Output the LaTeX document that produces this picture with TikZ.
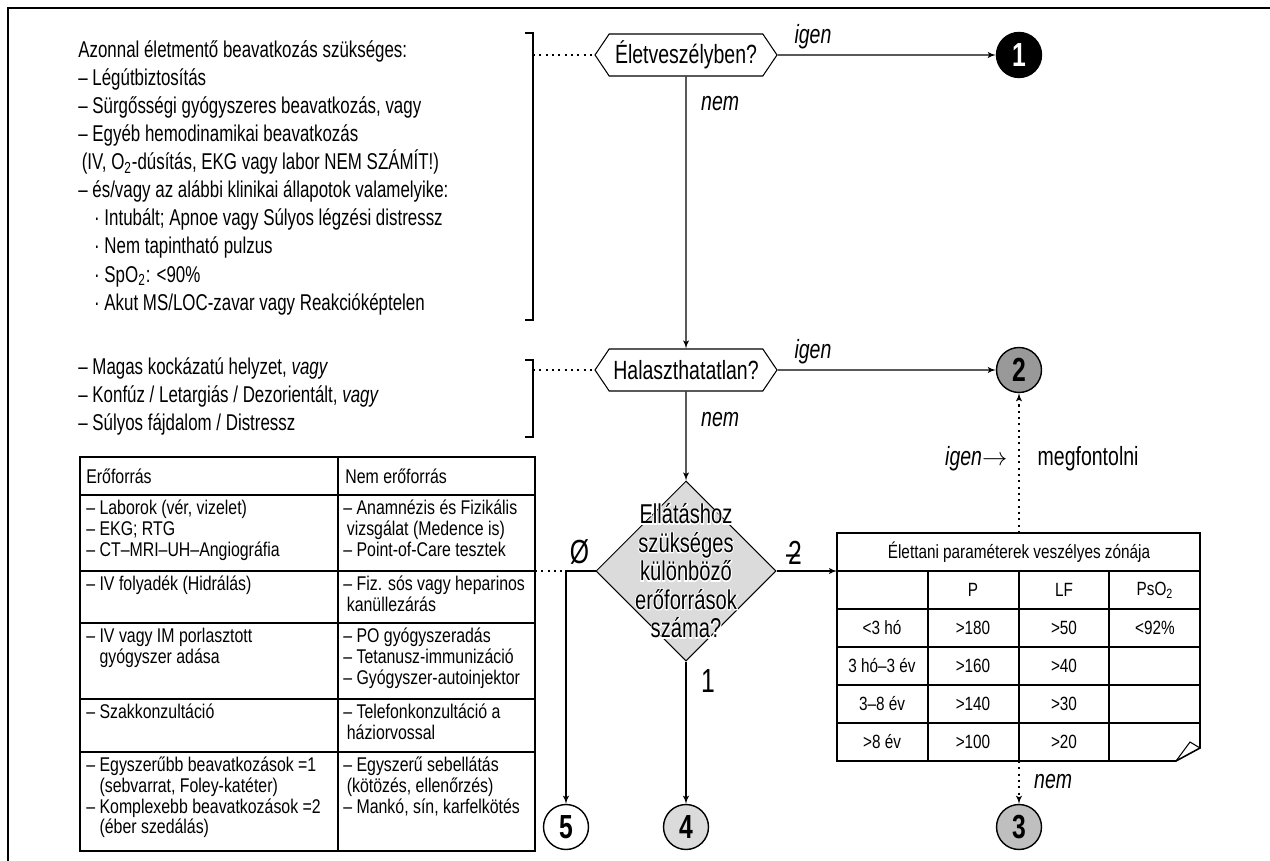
\documentclass[tikz,border=0pt]{standalone}
\usepackage{fontspec}
\setmainfont{Liberation Sans}[FakeStretch=0.74]
\newfontfamily\tabfamily{Liberation Sans}[FakeStretch=0.8]
\newfontfamily\halofamily{Liberation Sans}[FakeStretch=0.74, FakeBold=7]
\usetikzlibrary{arrows}
\usetikzlibrary{positioning}
\usetikzlibrary{shapes.geometric}
\usetikzlibrary{shapes.symbols}
\newcommand{\sidefont}{\fontsize{13}{16}\selectfont}
\newcommand{\flowfont}{\fontsize{15}{17}\selectfont}
\newcommand{\resfont}{\fontsize{15.5}{16.2}\selectfont}
\newcommand{\cellfont}{\tabfamily\fontsize{11.3}{11.7}\selectfont}
\newcommand{\parfont}{\tabfamily\fontsize{10.9}{11.7}\selectfont}
\newcommand{\numfont}{\fontsize{19}{19}\selectfont\bfseries}
\newcommand{\markfont}{\fontsize{19}{19}\selectfont}
\newcommand{\restext}{Ellátáshoz\\szükséges\\különböző\\erőforrások\\száma?}
\tikzset{flow/.style = {-latex', line width=0.6pt},
         hint/.style = {line width=0.6pt, dash pattern=on 1.2pt off 2.4pt},
         rule/.style = {line width=0.9pt},
         question/.style = {signal, signal to=west and east, signal pointer angle=112,
                            draw, line width=0.6pt, minimum width=3.64cm,
                            minimum height=0.84cm, inner sep=0pt, font=\flowfont},
         exit/.style = {circle, draw, line width=0.8pt, minimum size=0.9cm,
                        inner sep=0pt, font=\numfont},
         side/.style = {anchor=north west, align=left, inner sep=0pt, font=\sidefont},
         cell/.style = {anchor=north west, align=left, inner sep=0pt, font=\cellfont},
         val/.style = {inner sep=0pt, font=\parfont}}

\begin{document}
\begin{tikzpicture}[x=0.02cm, y=-0.02cm]
    \useasboundingbox (0, 0) rectangle (1270, 861);
    \draw [line width=0.7pt] (8, 861) -- (8, 8) -- (1270, 8);

    % kriteriumok
    \node (crit) [side] at (78, 40) {Azonnal életmentő beavatkozás szükséges:\\
        – Légútbiztosítás\\
        – Sürgősségi gyógyszeres beavatkozás, vagy\\
        – Egyéb hemodinamikai beavatkozás\\
        \hspace*{2pt}(IV, O\textsubscript{2}-dúsítás, EKG vagy labor NEM SZÁMÍT!)\\
        – és/vagy az alábbi klinikai állapotok valamelyike:\\
        \hspace*{9pt}· Intubált; Apnoe vagy Súlyos légzési distressz\\
        \hspace*{9pt}· Nem tapintható pulzus\\
        \hspace*{9pt}· SpO\textsubscript{2}: <90\%\\
        \hspace*{9pt}· Akut MS/LOC-zavar vagy Reakcióképtelen};
    \node (risk) [side] at (78, 357) {– Magas kockázatú helyzet, \emph{vagy}\\
        – Konfúz / Letargiás / Dezorientált, \emph{vagy}\\
        – Súlyos fájdalom / Distressz};
    \draw [line width=0.6pt] (525, 33) -- (533, 33) -- (533, 320) -- (525, 320);
    \draw [line width=0.6pt] (525, 360) -- (533, 360) -- (533, 437) -- (525, 437);
    \coordinate (brace1) at (533, 55);
    \coordinate (brace2) at (533, 370);

    \node (elet) [question] at (686, 55) {Életveszélyben?};
    \node (halaszt) [question] at (686, 370) {Halaszthatatlan?};
    \node (res) [diamond, draw, line width=0.6pt, fill=black!14, minimum width=3.6cm,
                 minimum height=3.6cm, inner sep=0pt] at (686, 571) {};
    \node (reshalo) [align=center, inner sep=0pt, text=white, font=\resfont\halofamily] at (res) {\restext};
    \node (restxt) [align=center, inner sep=0pt, font=\resfont] at (res) {\restext};

    \node (c1) [exit, fill=black, text=white] at (1019, 55) {1};
    \node (c2) [exit, fill=black!40] at (1019, 370) {2};
    \node (c3) [exit, fill=black!25] at (1019, 827) {3};
    \node (c4) [exit, fill=black!14] at (686, 827) {4};
    \node (c5) [exit, fill=white] at (566, 827) {5};

    \draw [hint] (brace1) -- (elet.west);
    \draw [hint] (brace2) -- (halaszt.west);
    \draw [flow] (elet) -- (c1) node [pos=0, anchor=south west, xshift=6pt, font=\flowfont\itshape] {igen};
    \draw [flow] (elet) -- (halaszt) node [pos=0.1, right=5pt, font=\flowfont\itshape] {nem};
    \draw [flow] (halaszt) -- (c2) node [pos=0, anchor=south west, xshift=6pt, font=\flowfont\itshape] {igen};
    \draw [flow] (halaszt) -- (res) node [pos=0.31, right=5pt, font=\flowfont\itshape] {nem};

    % eroforras tabla
    \draw [rule] (80, 457) rectangle (535, 851);
    \foreach \y in {495, 571, 623, 699, 752}
        \draw [rule] (80, \y) -- (535, \y);
    \draw [rule] (338, 457) -- (338, 851);
    \coordinate (restab) at (535, 571);

    \node (hdA) [cell, anchor=west] at (86, 476) {Erőforrás};
    \node (hdB) [cell, anchor=west] at (345, 476) {Nem erőforrás};
    \node (rowA1) [cell] at (86, 500) {– Laborok (vér, vizelet)\\– EKG; RTG\\– CT–MRI–UH–Angiográfia};
    \node (rowB1) [cell] at (343, 500) {– Anamnézis és Fizikális\\\hspace*{2pt}vizsgálat (Medence is)\\– Point-of-Care tesztek};
    \node (rowA2) [cell] at (86, 576) {– IV folyadék (Hidrálás)};
    \node (rowB2) [cell] at (343, 576) {– Fiz. sós vagy heparinos\\\hspace*{2pt}kanüllezárás};
    \node (rowA3) [cell] at (86, 628) {– IV vagy IM porlasztott\\\phantom{– }gyógyszer adása};
    \node (rowB3) [cell] at (343, 628) {– PO gyógyszeradás\\– Tetanusz-immunizáció\\– Gyógyszer-autoinjektor};
    \node (rowA4) [cell] at (86, 704) {– Szakkonzultáció};
    \node (rowB4) [cell] at (343, 704) {– Telefonkonzultáció a\\\hspace*{2pt}háziorvossal};
    \node (rowA5) [cell] at (86, 757) {– Egyszerűbb beavatkozások =1\\\phantom{– }(sebvarrat, Foley-katéter)\\– Komplexebb beavatkozások =2\\\phantom{– }(éber szedálás)};
    \node (rowB5) [cell] at (343, 757) {– Egyszerű sebellátás\\\hspace*{2pt}(kötözés, ellenőrzés)\\– Mankó, sín, karfelkötés};

    % parameter tabla
    \draw [rule] (837, 533) -- (1200, 533) -- (1200, 748) -- (1176, 761) -- (837, 761) -- cycle;
    \draw [line width=0.6pt] (1176, 761) -- (1190, 742) -- (1200, 748);
    \foreach \y in {571, 609, 647, 685, 723}
        \draw [rule] (837, \y) -- (1200, \y);
    \foreach \x in {928, 1019, 1109}
        \draw [rule] (\x, 571) -- (\x, 761);
    \coordinate (ptabin) at (837, 571);
    \coordinate (ptop) at (1019, 533);
    \coordinate (pbot) at (1019, 761);

    \node (ptitle) [val] at (1019, 552) {Élettani paraméterek veszélyes zónája};
    \node (hP) [val] at (973, 590) {P};
    \node (hLF) [val] at (1064, 590) {LF};
    \node (hSp) [val] at (1155, 590) {PsO\textsubscript{2}};
    \foreach \y/\age/\pul/\lf [count=\i] in {628/{<3 hó}/{>180}/{>50}, 666/{3 hó–3 év}/{>160}/{>40},
                                             704/{3–8 év}/{>140}/{>30}, 742/{>8 év}/{>100}/{>20}} {
        \node (age\i) [val] at (882, \y) {\age};
        \node (pul\i) [val] at (973, \y) {\pul};
        \node (lf\i) [val] at (1064, \y) {\lf};
    }
    \node (sp1) [val] at (1155, 628) {<92\%};

    \draw [flow] (res.east) -- (ptabin) node [pos=0, anchor=south west, xshift=3pt, font=\markfont] {\makebox[0pt][r]{–\kern-0.35em}2};
    \draw [flow] (res.west) -| (c5) node [pos=0, anchor=south east, font=\markfont] {Ø};
    \draw [hint] (restab) -- (restab -| c5);
    \draw [flow] (res) -- (c4) node [pos=0.14, right=5pt, font=\markfont] {1};
    \draw [flow, hint] (ptop) -- (c2) node [pos=0.53, left=3pt, font=\flowfont] {\emph{igen}$\rightarrow$}
        node [pos=0.53, right=7pt, font=\flowfont] {megfontolni};
    \draw [flow, hint] (pbot) -- (c3) node [pos=0.48, right=5pt, font=\flowfont\itshape] {nem};
\end{tikzpicture}
\end{document}
